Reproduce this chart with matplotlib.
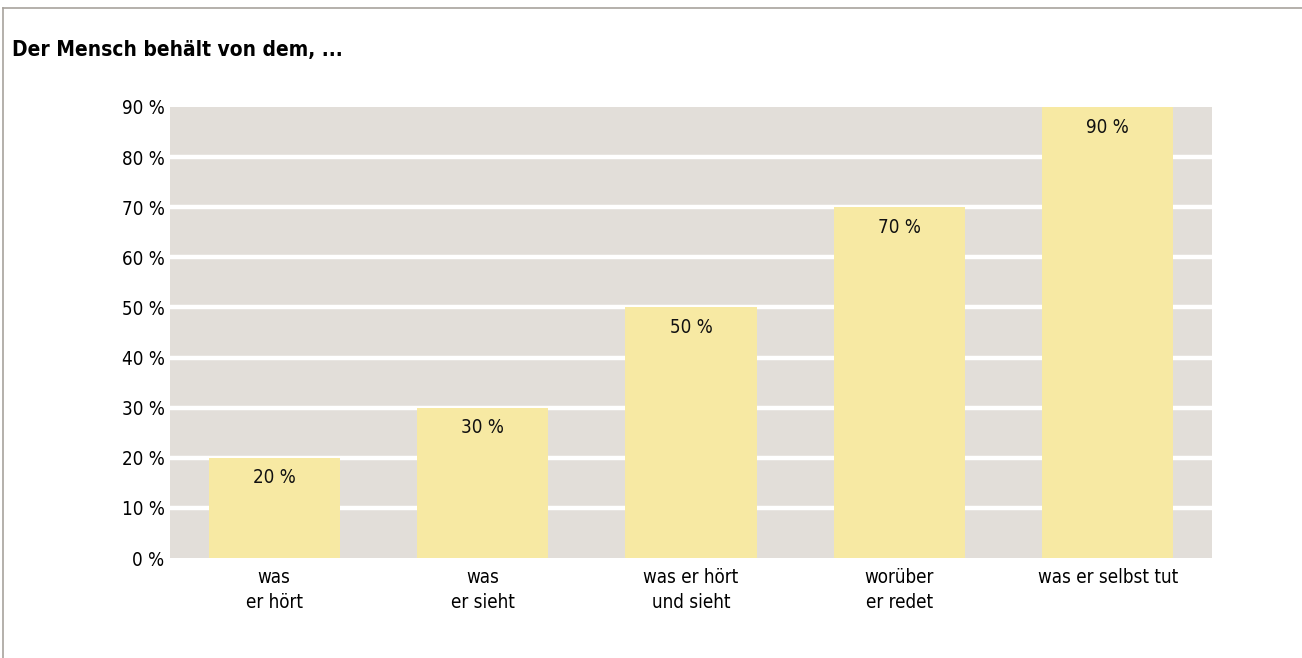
import matplotlib
matplotlib.use("Agg")
import matplotlib.pyplot as plt
from matplotlib.lines import Line2D

categories = ["was\ner hört", "was\ner sieht", "was er hört\nund sieht", "worüber\ner redet", "was er selbst tut"]
values = [20, 30, 50, 70, 90]
yticks = [0, 10, 20, 30, 40, 50, 60, 70, 80, 90]

FONT = ["DejaVu Sans"]
plt.rcParams['font.family'] = FONT

W, H = 1302, 658
fig = plt.figure(figsize=(W / 100, H / 100), dpi=100)

x0, x1 = 170, 1212
y0, y1 = 558, 107
ax = fig.add_axes([x0 / W, 1 - y0 / H, (x1 - x0) / W, (y0 - y1) / H])
ax.set_facecolor("#e2ded9")

xs = list(range(len(categories)))
ax.bar(xs, values, width=0.63, color="#f7e9a3", zorder=3)
ax.set_xlim(-0.5, len(categories) - 0.5)
ax.set_ylim(0, 90)
ax.set_yticks(yticks)
ax.set_yticklabels([f"{v} %" for v in yticks], fontsize=13.5, stretch="condensed")
ax.set_xticks(xs)
ax.set_xticklabels(categories, fontsize=13.5, stretch="condensed", linespacing=1.4)
ax.tick_params(axis="y", length=0, pad=4)
ax.tick_params(axis="x", length=0, pad=7)
for t in yticks[1:-1]:
    ax.axhline(t, color="white", lw=3.2, zorder=2)
for s in ax.spines.values():
    s.set_visible(False)

for x, v in zip(xs, values):
    ax.text(x, v - 4.0, f"{v} %", ha="center", va="center", fontsize=13.5,
            stretch="condensed", zorder=4, color="#111111")

fig.text(12 / W, 1 - 50 / H, "Der Mensch behält von dem, ...", fontsize=15,
         fontweight="bold", stretch="condensed", va="center", ha="left")

# frame lines (top and left)
fig.add_artist(Line2D([3 / W, 1], [1 - 8 / H, 1 - 8 / H], transform=fig.transFigure, color="#a8a39d", lw=1.2))
fig.add_artist(Line2D([3 / W, 3 / W], [0, 1 - 8 / H], transform=fig.transFigure, color="#a8a39d", lw=1.2))

fig.savefig("out.png", dpi=100)
